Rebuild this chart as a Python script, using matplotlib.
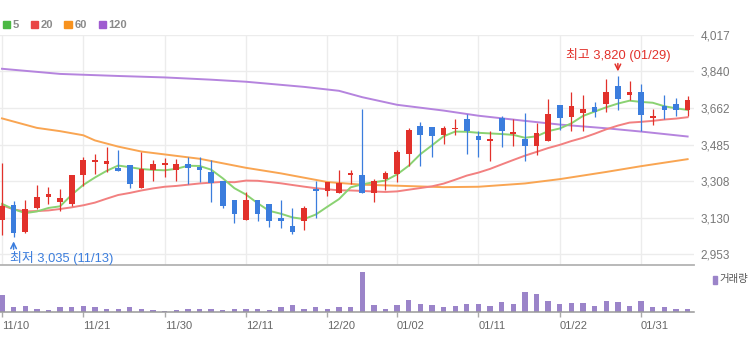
import matplotlib
matplotlib.use('Agg')
import matplotlib.pyplot as plt
import numpy as np
import pandas as pd
from matplotlib.patches import Rectangle

plt.rcParams['font.family'] = ['Liberation Sans', 'Noto Sans CJK KR', 'DejaVu Sans']

# daily candles, 11/10 .. 02/06
dates = ['11/10', '11/13', '11/14', '11/15', '11/16', '11/17', '11/20', '11/21', '11/22', '11/23',
         '11/24', '11/27', '11/28', '11/29', '11/30', '12/01', '12/04', '12/05', '12/06', '12/07',
         '12/08', '12/11', '12/12', '12/13', '12/14', '12/15', '12/18', '12/19', '12/20', '12/21',
         '12/22', '12/26', '12/27', '12/28', '01/02', '01/03', '01/04', '01/05', '01/08', '01/09',
         '01/10', '01/11', '01/12', '01/15', '01/16', '01/17', '01/18', '01/19', '01/22', '01/23',
         '01/24', '01/25', '01/26', '01/29', '01/30', '01/31', '02/01', '02/02', '02/05', '02/06']
opens = [3120, 3190, 3060, 3175, 3230, 3205, 3195, 3335, 3400, 3390,
         3370, 3385, 3275, 3360, 3385, 3360, 3390, 3375, 3350, 3310,
         3215, 3120, 3215, 3195, 3130, 3090, 3115, 3270, 3260, 3250,
         3335, 3335, 3250, 3320, 3340, 3440, 3575, 3570, 3530, 3560,
         3610, 3525, 3500, 3615, 3535, 3510, 3480, 3500, 3675, 3620,
         3640, 3665, 3680, 3770, 3725, 3740, 3615, 3670, 3680, 3655]
highs = [3395, 3210, 3215, 3290, 3280, 3270, 3335, 3425, 3440, 3475,
         3460, 3385, 3450, 3410, 3420, 3415, 3425, 3425, 3410, 3310,
         3215, 3255, 3215, 3195, 3215, 3175, 3185, 3310, 3305, 3360,
         3360, 3660, 3320, 3355, 3460, 3565, 3595, 3570, 3575, 3610,
         3635, 3550, 3550, 3625, 3610, 3640, 3590, 3705, 3675, 3740,
         3725, 3690, 3805, 3820, 3795, 3780, 3660, 3725, 3710, 3720]
lows = [3045, 3035, 3055, 3170, 3195, 3160, 3185, 3285, 3340, 3350,
        3355, 3275, 3275, 3310, 3325, 3310, 3295, 3305, 3205, 3175,
        3105, 3120, 3115, 3085, 3080, 3050, 3070, 3130, 3235, 3250,
        3295, 3250, 3205, 3265, 3305, 3380, 3380, 3425, 3490, 3530,
        3440, 3425, 3405, 3475, 3480, 3405, 3435, 3500, 3555, 3550,
        3550, 3620, 3645, 3655, 3700, 3550, 3580, 3610, 3625, 3625]
closes = [3185, 3055, 3170, 3230, 3245, 3225, 3335, 3410, 3410, 3405,
          3355, 3295, 3365, 3390, 3395, 3390, 3370, 3360, 3300, 3185,
          3150, 3215, 3150, 3115, 3115, 3060, 3175, 3260, 3305, 3300,
          3345, 3250, 3310, 3345, 3450, 3555, 3530, 3525, 3565, 3565,
          3550, 3505, 3510, 3550, 3545, 3480, 3540, 3635, 3615, 3670,
          3660, 3645, 3740, 3705, 3740, 3630, 3625, 3655, 3655, 3700]
volume_k = [167, 43, 57, 30, 20, 43, 43, 57, 43, 30,
            30, 43, 30, 20, 10, 20, 30, 30, 30, 20,
            30, 30, 30, 20, 43, 67, 30, 43, 30, 43,
            43, 393, 65, 30, 63, 120, 77, 63, 43, 53,
            77, 77, 53, 97, 77, 197, 177, 110, 77, 87,
            87, 53, 110, 97, 53, 110, 43, 43, 30, 30]

# averages that need history from before the first candle
ma5_head = [3197, 3171, 3152, 3160]
ma20_head = [3190, 3170, 3160, 3162, 3165, 3172, 3180, 3190, 3203, 3222,
             3240, 3250, 3262, 3272, 3280, 3284, 3290, 3296, 3300]
ma60_idx = [0, 3, 5, 7, 8, 10, 12, 14, 17, 21, 24, 28, 31, 34, 38, 41, 45, 48, 52, 55, 59]
ma60_val = [3612, 3566, 3550, 3530, 3505, 3475, 3451, 3437, 3416, 3372, 3345,
            3303, 3290, 3285, 3278, 3280, 3296, 3317, 3352, 3380, 3414]
ma120_idx = [0, 5, 10, 14, 18, 21, 26, 29, 31, 34, 38, 41, 45, 48, 52, 55, 59]
ma120_val = [3853, 3828, 3818, 3811, 3800, 3790, 3765, 3746, 3715, 3678,
             3650, 3625, 3600, 3582, 3564, 3548, 3524]

price_ticks = [2953, 3130, 3308, 3485, 3662, 3840, 4017]
date_ticks = ['11/10', '11/21', '11/30', '12/11', '12/20', '01/02', '01/11', '01/22', '01/31']

RED = '#e2312b'
BLUE = '#3b7ddd'

o = np.array(opens, dtype=float)
h = np.array(highs, dtype=float)
l = np.array(lows, dtype=float)
c = np.array(closes, dtype=float)
x = np.arange(len(dates))

close_s = pd.Series(c)
ma5 = close_s.rolling(5).mean()
ma5.iloc[:4] = ma5_head
ma20 = close_s.rolling(20).mean()
ma20.iloc[:19] = ma20_head

W, H = 752, 337
fig = plt.figure(figsize=(W / 100, H / 100), dpi=100)


def frac(x0, y0, x1, y1):
    return [x0 / W, 1 - y1 / H, (x1 - x0) / W, (y1 - y0) / H]


ax = fig.add_axes(frac(0, 35, 694, 265))
axv = fig.add_axes(frac(0, 265, 694, 311.7), sharex=ax)

# moving averages
ax.plot(ma120_idx, ma120_val, color='#b584de', lw=1.4, zorder=2)
ax.plot(ma60_idx, ma60_val, color='#f9a552', lw=1.4, zorder=2)
ax.plot(x, ma20, color='#f28080', lw=1.4, zorder=2)
ax.plot(x, ma5, color='#8ad272', lw=1.4, zorder=2)

# candles
colors = np.where(c >= o, RED, BLUE)
ax.vlines(x, l, h, colors=colors, lw=0.9, zorder=3)
body_h = np.maximum(np.abs(c - o), 6)
ax.bar(x, body_h, bottom=np.minimum(o, c), width=0.49, color=colors, lw=0, zorder=4)

ax.set_xlim(-0.17, 59.55)
ax.set_ylim(2900, 4017)
tick_idx = [dates.index(d) for d in date_ticks]
ax.set_xticks(tick_idx)
ax.set_yticks(price_ticks)
ax.set_yticklabels([f'{v:,}' for v in price_ticks])
ax.yaxis.tick_right()
ax.tick_params(axis='y', length=0, pad=4.5, labelsize=8.5, labelcolor='#777777')
ax.tick_params(axis='x', length=0, labelbottom=False)
ax.grid(True, color='#ececec', lw=1)
ax.set_axisbelow(True)
for s in ['top', 'left', 'right']:
    ax.spines[s].set_visible(False)
ax.spines['bottom'].set_color('#b3b3b3')
ax.spines['bottom'].set_linewidth(1.3)

# highest / lowest markers
hi_i = int(np.argmax(h))
lo_i = int(np.argmin(l))
ax.annotate('', xy=(hi_i, h[hi_i]), xytext=(0, 12), textcoords='offset pixels',
            arrowprops=dict(arrowstyle='->', color=RED, lw=1.1, shrinkA=0, shrinkB=3))
ax.annotate(f'최고 {int(h[hi_i]):,} ({dates[hi_i]})', xy=(hi_i, h[hi_i]), xytext=(0, 14),
            textcoords='offset pixels', ha='center', va='bottom', color=RED, fontsize=9.3)
ax.annotate('', xy=(lo_i, l[lo_i]), xytext=(0, -12), textcoords='offset pixels',
            arrowprops=dict(arrowstyle='->', color=BLUE, lw=1.1, shrinkA=0, shrinkB=3))
ax.annotate(f'최저 {int(l[lo_i]):,} ({dates[lo_i]})', xy=(lo_i, l[lo_i]), xytext=(-4, -14),
            textcoords='offset pixels', ha='left', va='top', color=BLUE, fontsize=9.3)

# volume
axv.bar(x, volume_k, width=0.46, color='#9b84c9', lw=0)
axv.set_ylim(0, 467)
axv.set_yticks([])
axv.set_xticks(tick_idx)
axv.set_xticklabels(date_ticks)
for lab in axv.get_xticklabels():
    lab.set_ha('left')
axv.tick_params(axis='x', length=3.6, width=1, color='#aaaaaa', pad=3,
                labelsize=8, labelcolor='#666666')
for s in ['top', 'left', 'right']:
    axv.spines[s].set_visible(False)
axv.spines['bottom'].set_color('#999999')
axv.spines['bottom'].set_linewidth(1.1)
axv.patch.set_alpha(0)

fig.patches.append(Rectangle((713 / W, 1 - 284 / H), 3.5 / W, 8.5 / H,
                             transform=fig.transFigure, color='#9b84c9'))
fig.text(719 / W, 1 - 279 / H, '거래량', fontsize=7.5, color='#555555', va='center')

# legend
legend = [('5', '#4cb944'), ('20', '#e94444'), ('60', '#f7921e'), ('120', '#9f5bd0')]
lx = [2.7, 30.7, 64.3, 98.7]
for (name, col), px in zip(legend, lx):
    fig.patches.append(Rectangle((px / W, 1 - 28 / H), 7.3 / W, 7.3 / H,
                                 transform=fig.transFigure, color=col))
    fig.text((px + 10) / W, 1 - 24.5 / H, name, fontsize=8, fontweight='bold',
             color='#8a8a8a', va='center')

fig.savefig('out.png', dpi=100)
